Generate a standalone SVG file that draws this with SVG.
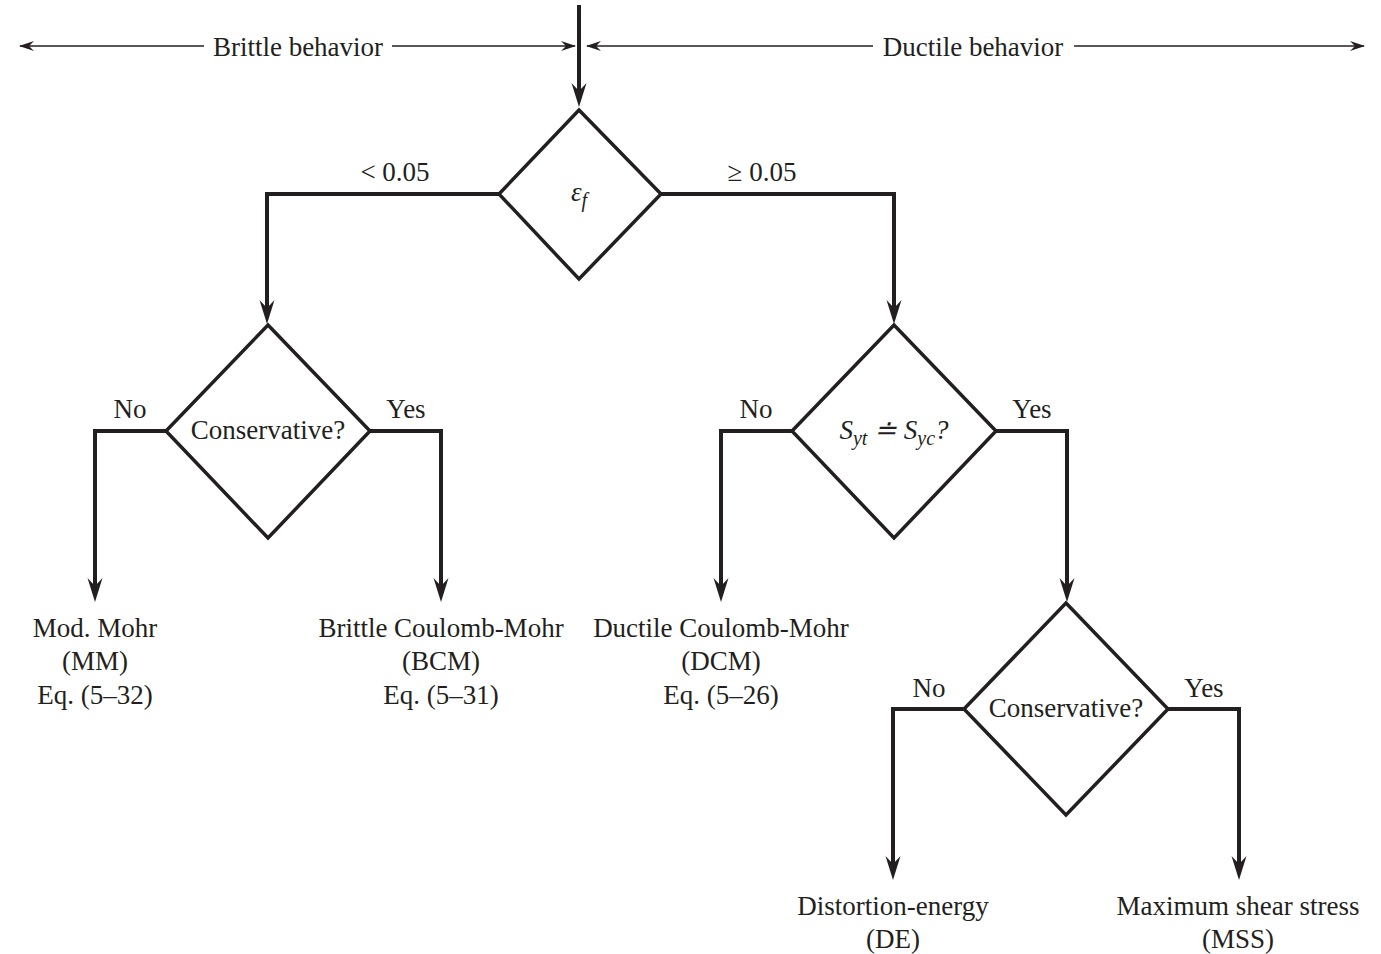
<svg xmlns="http://www.w3.org/2000/svg" width="1381" height="954" viewBox="0 0 1381 954">
<style>
text{font-family:"Liberation Serif","Times New Roman",serif;font-size:27px;fill:#231f20;text-anchor:middle}
.it{font-style:italic}
.dia{fill:#fff;stroke:#231f20;stroke-width:3.5;stroke-linejoin:miter}
.thick{fill:none;stroke:#231f20;stroke-width:4;stroke-linejoin:miter}
.thin{fill:none;stroke:#231f20;stroke-width:1.6}
</style>
<defs>
<marker id="ah" markerUnits="userSpaceOnUse" viewBox="-26 -9 28 18" markerWidth="28" markerHeight="18" refX="-10" refY="0" orient="auto">
<path d="M0,0 L-24,-7.5 L-16,0 L-24,7.5 Z" fill="#231f20"/>
</marker>
<marker id="at" markerUnits="userSpaceOnUse" viewBox="-16 -6 18 12" markerWidth="18" markerHeight="12" refX="0" refY="0" orient="auto">
<path d="M1,0 L-14,-5 L-9,0 L-14,5 Z" fill="#231f20"/>
</marker>
</defs>
<g id="connectors">
<path class="thin" d="M204,46 H20" marker-end="url(#at)"/>
<path class="thin" d="M392,46 H575" marker-end="url(#at)"/>
<path class="thin" d="M873,46 H587" marker-end="url(#at)"/>
<path class="thin" d="M1074,46 H1364" marker-end="url(#at)"/>
<path class="thick" d="M579,5 V97" marker-end="url(#ah)"/>
<path class="thick" d="M499,194 H267 V314" marker-end="url(#ah)"/>
<path class="thick" d="M661,194 H894 V314" marker-end="url(#ah)"/>
<path class="thick" d="M166,431 H95 V592" marker-end="url(#ah)"/>
<path class="thick" d="M370,431 H441 V592" marker-end="url(#ah)"/>
<path class="thick" d="M792,431 H721 V592" marker-end="url(#ah)"/>
<path class="thick" d="M996,431 H1067 V592" marker-end="url(#ah)"/>
<path class="thick" d="M964,709 H893 V870" marker-end="url(#ah)"/>
<path class="thick" d="M1168,709 H1239 V870" marker-end="url(#ah)"/>
<text x="395" y="181">&lt; 0.05</text>
<text x="762" y="181">≥ 0.05</text>
<text x="130" y="418">No</text>
<text x="406" y="418">Yes</text>
<text x="756" y="418">No</text>
<text x="1032" y="418">Yes</text>
<text x="929" y="697">No</text>
<text x="1204" y="697">Yes</text>
</g>
<g id="header">
<text x="298" y="56">Brittle behavior</text>
<text x="973" y="56">Ductile behavior</text>
</g>
<g id="d1">
<polygon class="dia" points="579,110 661,194 579,279 499,194"/>
<text x="579" y="201" class="it">ε<tspan font-size="20" dy="6">f</tspan></text>
</g>
<g id="d2">
<polygon class="dia" points="268,325 370,431 268,538 166,431"/>
<text x="268" y="439">Conservative?</text>
</g>
<g id="d3">
<polygon class="dia" points="894,325 996,431 894,538 792,431"/>
<text x="894" y="439" class="it">S<tspan font-size="20" dy="6">yt</tspan><tspan dy="-6"> ≐ S</tspan><tspan font-size="20" dy="6">yc</tspan><tspan dy="-6">?</tspan></text>
</g>
<g id="d4">
<polygon class="dia" points="1066,603 1168,709 1066,815 964,709"/>
<text x="1066" y="717">Conservative?</text>
</g>
<g id="mm">
<text x="95" y="637">Mod. Mohr</text>
<text x="95" y="670">(MM)</text>
<text x="95" y="704">Eq. (5–32)</text>
</g>
<g id="bcm">
<text x="441" y="637">Brittle Coulomb-Mohr</text>
<text x="441" y="670">(BCM)</text>
<text x="441" y="704">Eq. (5–31)</text>
</g>
<g id="dcm">
<text x="721" y="637">Ductile Coulomb-Mohr</text>
<text x="721" y="670">(DCM)</text>
<text x="721" y="704">Eq. (5–26)</text>
</g>
<g id="de">
<text x="893" y="915">Distortion-energy</text>
<text x="893" y="948">(DE)</text>
</g>
<g id="mss">
<text x="1238" y="915">Maximum shear stress</text>
<text x="1238" y="948">(MSS)</text>
</g>
</svg>
